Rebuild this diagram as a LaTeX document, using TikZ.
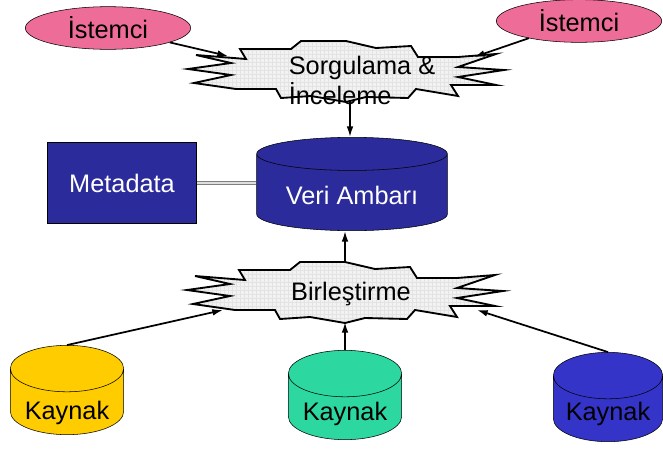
\documentclass[tikz,border=0pt]{standalone}
\usepackage{fontspec}
\setmainfont{Liberation Sans}
\usetikzlibrary{shapes.geometric,arrows.meta,patterns}

\definecolor{istpink}{RGB}{238,108,152}
\definecolor{ambarblue}{RGB}{43,43,155}
\definecolor{kayyellow}{RGB}{255,204,0}
\definecolor{kayteal}{RGB}{44,216,160}
\definecolor{kayblue}{RGB}{52,52,200}

\tikzset{
  burst/.pic={
    \draw[line width=1.4pt, line join=miter, preaction={fill=gray!10},
          pattern=grid, pattern color=gray!22]
      (-150,-16) -- (-100,-12) -- (-106,-22) -- (-55,-22) -- (-45,-30)
      -- (0,-30) -- (30,-23) -- (65,-25) -- (72,-14) -- (112,-14)
      -- (150,-17) -- (112,-4) -- (158,-1) -- (112,6) -- (150,14)
      -- (105,14) -- (112,25) -- (70,18) -- (62,27) -- (20,26)
      -- (0,31) -- (-35,25) -- (-65,27) -- (-70,18) -- (-110,18)
      -- (-152,12) -- (-115,4) -- (-158,-2) -- (-115,-8) -- cycle;
    \coordinate (-nw) at (-118,-15);
    \coordinate (-ne) at (128,-14);
    \coordinate (-sw) at (-122,18);
    \coordinate (-se) at (132,18);
    \coordinate (-n)  at (0,-30);
    \coordinate (-s)  at (4,30);
  },
  arr/.style={line width=1.3pt, -{Latex[length=8pt,width=5pt]}}
}

\begin{document}
\begin{tikzpicture}[x=0.75pt,y=-0.75pt,font=\fontsize{19}{22.5}\selectfont]
  \useasboundingbox (0,0) rectangle (663,450);

  \pic (sorg) at (346,71) {burst};
  \pic (birl) at (345,292) {burst};

  \node[align=left] (sorgtxt) at (362,80) {Sorgulama \&\\İnceleme};
  \node (birltxt) at (351,294) {Birleştirme};

  \begin{scope}[every node/.style={ellipse,draw,fill=istpink,inner sep=0,
                minimum width=124pt,minimum height=32pt}]
    \node (ist1) at (108,28) {İstemci};
    \node (ist2) at (579,21) {İstemci};
  \end{scope}

  \node[draw,fill=ambarblue,text=white,minimum width=112pt,minimum height=61pt,
        inner sep=0] (meta) at (122,183) {Metadata};

  \begin{scope}[every node/.style={cylinder,shape border rotate=90,draw,
                inner sep=0,aspect=0.55,minimum width=85pt,minimum height=67pt,
                anchor=shape center}]
    \node[fill=ambarblue,text=white,minimum width=143pt,minimum height=70pt,
          aspect=0.25] (veri) at (352,184) {\raisebox{-9pt}[0pt][0pt]{Veri Ambarı}};
    \node[fill=kayyellow] (kay1) at (67,390) {\raisebox{-13pt}[0pt][0pt]{Kaynak}};
    \node[fill=kayteal]   (kay2) at (345,395) {\raisebox{-10pt}[0pt][0pt]{Kaynak}};
    \node[fill=kayblue,minimum width=82pt]
                          (kay3) at (608,397) {\raisebox{-9pt}[0pt][0pt]{Kaynak}};
  \end{scope}

  \draw[draw=gray,double=gray!25,double distance=1.6pt,line width=0.9pt]
    (meta.east) -- (meta.east -| veri.west);

  \draw[arr] (ist1) -- (sorg-nw);
  \draw[arr] (ist2) -- (sorg-ne);
  \draw[arr] (sorg-s) -- (sorg-s |- veri.north);
  \draw[arr] (birl-n) -- (birl-n |- veri.south);
  \draw[arr] (kay1.north) -- (birl-sw);
  \draw[arr] (kay2.north) -- (kay2.north |- birl-s);
  \draw[arr] (kay3.north) -- (birl-se);

\end{tikzpicture}
\end{document}
